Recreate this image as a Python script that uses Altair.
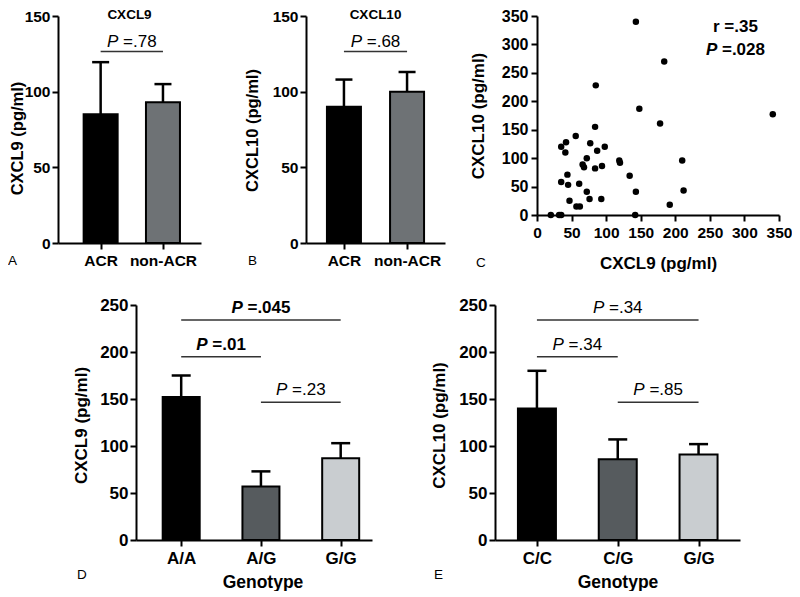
import altair as alt
import pandas as pd

FONT = "Liberation Sans"

# ---------------- data ----------------
ab_groups = ["ACR", "non-ACR"]
ab_colors = ["#000000", "#6e7275"]
cxcl9_mean = [85, 93]
cxcl9_err = [34.5, 12]
cxcl10_mean = [90, 100]
cxcl10_err = [18, 13]

scatter_cxcl9 = [143, 184, 85, 148, 341, 178, 84, 56, 42, 35, 41, 77, 98, 87, 72, 66, 68, 84, 94, 119,
                 120, 134, 44, 35, 45, 61, 72, 143, 47, 76, 93, 57, 62, 20, 32, 35, 142, 210, 212, 192]
scatter_cxcl10 = [340, 270, 228, 187, 177, 161, 155, 139, 128, 120, 110, 126, 120, 113, 100, 89, 84, 82, 86, 96,
                  92, 69, 71, 58, 53, 55, 41, 41, 25, 28, 28, 15, 15, 0, 0, 0, 0, 96, 43, 18]

d_groups = ["A/A", "A/G", "G/G"]
d_mean = [152, 57, 87]
d_err = [23, 16, 16]
e_groups = ["C/C", "C/G", "G/G"]
e_mean = [140, 86, 91]
e_err = [40, 21, 11]
geno_colors = ["#000000", "#565b5e", "#c9cdd0"]

# brackets: (from index, to index, height, p text, bold)
a_brackets = [(0, 1, 126.5, ".78", False)]
b_brackets = [(0, 1, 126.5, ".68", False)]
d_brackets = [(0, 2, 234, ".045", True), (0, 1, 195, ".01", True), (1, 2, 146.5, ".23", False)]
e_brackets = [(0, 2, 234, ".34", False), (0, 1, 195, ".34", False), (1, 2, 146.5, ".85", False)]

# ---------------- helpers ----------------
CW = {"P": 0.667, " ": 0.278, "=": 0.584, ".": 0.278, "r": 0.389}
for _d in "0123456789":
    CW[_d] = 0.556


def text_w(s, fs):
    return sum(CW.get(c, 0.556) for c in s) * fs


def one():
    return pd.DataFrame({"k": [0]})


def label_text(txt, x, y, fs, weight="normal", align="left", baseline="middle"):
    return alt.Chart(one()).mark_text(
        text=txt, align=align, baseline=baseline, fontSize=fs, font=FONT,
        fontWeight=weight, color="black"
    ).encode(x=alt.value(x), y=alt.value(y))


def p_layers(xc, yv, rest, bold, fs, dy, X, Y):
    wP = CW["P"] * fs
    wS = CW[" "] * fs
    wR = text_w("=" + rest, fs)
    total = wP + wS + wR
    df = pd.DataFrame({"xi": [xc], "yv": [yv]})
    weight = "bold" if bold else "normal"
    t1 = alt.Chart(df).mark_text(
        text="P", align="left", baseline="middle", dx=-total / 2, dy=dy,
        fontSize=fs, font=FONT, fontStyle="italic", fontWeight=weight, color="black"
    ).encode(x=X("xi"), y=Y("yv"))
    t2 = alt.Chart(df).mark_text(
        text="=" + rest, align="left", baseline="middle", dx=-total / 2 + wP + wS, dy=dy,
        fontSize=fs, font=FONT, fontWeight=weight, color="black"
    ).encode(x=X("xi"), y=Y("yv"))
    return [t1, t2]


def bar_panel(groups, means, errs, colors, brackets, xdom, width, height, ymax,
              ytitle, ytx, yty, xtitle, xtx, xty, lfs, tfs, bar_w, cap_w,
              panel_title, letter, letter_x, letter_y, pdy):
    n = len(groups)
    xs = alt.Scale(domain=xdom, nice=False, zero=False)
    ys = alt.Scale(domain=[0, ymax], nice=False)
    label_expr = "[" + ",".join("'" + g + "'" for g in groups) + "][datum.value]"
    xaxis_kw = dict(values=list(range(n)), labelExpr=label_expr, labelFontSize=lfs,
                    labelFlush=False, labelOverlap=False, labelPadding=4, ticks=True, grid=False)
    if xtitle:
        xaxis_kw.update(title=xtitle, titleX=xtx, titleY=xty, titleBaseline="middle", titleFontSize=tfs + 0.5)
    else:
        xaxis_kw.update(title=None)
    xaxis = alt.Axis(**xaxis_kw)
    yaxis = alt.Axis(values=list(range(0, ymax + 1, 50)), title=ytitle, titleX=ytx, titleY=yty,
                     labelFontSize=lfs, titleFontSize=tfs, labelFlush=False, labelOverlap=False,
                     labelPadding=2, grid=False)

    def X(f):
        return alt.X(f, type="quantitative", scale=xs, axis=xaxis)

    def Y(f):
        return alt.Y(f, type="quantitative", scale=ys, axis=yaxis)

    df = pd.DataFrame({
        "xi": list(range(n)),
        "grp": groups,
        "fillc": colors,
        "yv": means,
        "yv2": [m + e for m, e in zip(means, errs)],
    })
    bars = alt.Chart(df).mark_bar(size=bar_w, stroke="black", strokeWidth=2).encode(
        x=X("xi"), y=Y("yv"),
        color=alt.Color("fillc:N", scale=None),
    )
    err = alt.Chart(df).mark_rule(color="black", strokeWidth=2.5).encode(
        x=X("xi"), y=Y("yv"), y2="yv2")
    cap = alt.Chart(df).mark_tick(orient="horizontal", size=cap_w, thickness=2.5,
                                  color="black", opacity=1).encode(x=X("xi"), y=Y("yv2"))
    layers = [bars, err, cap]
    bdf = pd.DataFrame({
        "xi": [b[0] for b in brackets],
        "xi2": [b[1] for b in brackets],
        "yv": [b[2] for b in brackets],
    })
    layers.append(alt.Chart(bdf).mark_rule(color="#333333", strokeWidth=1.5).encode(
        x=X("xi"), x2="xi2", y=Y("yv")))
    for b in brackets:
        layers += p_layers((b[0] + b[1]) / 2, b[2], b[3], b[4], 17, pdy, X, Y)
    if panel_title:
        layers.append(label_text(panel_title, width / 2, 3, 13.5, weight="bold",
                                 align="center", baseline="alphabetic"))
    layers.append(label_text(letter, letter_x, letter_y, 13.5))
    return alt.layer(*layers).properties(width=width, height=height)


# ---------------- panels ----------------
panel_a = bar_panel(ab_groups, cxcl9_mean, cxcl9_err, ab_colors, a_brackets,
                    [-0.604, 1.53], 143, 227, 150,
                    "CXCL9 (pg/ml)", -33, 122, None, 0, 0, 15.5, 16.5, 34, 17,
                    "CXCL9", "A", -50, 245, -10)
panel_b = bar_panel(ab_groups, cxcl10_mean, cxcl10_err, ab_colors, b_brackets,
                    [-0.522, 1.522], 139, 227, 150,
                    "CXCL10 (pg/ml)", -46, 114, None, 0, 0, 15.5, 16.5, 34, 17,
                    "CXCL10", "B", -58, 245, -10)
panel_d = bar_panel(d_groups, d_mean, d_err, geno_colors, d_brackets,
                    [-0.504, 2.33], 236, 235, 250,
                    "CXCL9 (pg/ml)", -46, 120, "Genotype", 126.5, 42, 17, 17, 37, 19,
                    None, "D", -59, 270, -12)
panel_e = bar_panel(e_groups, e_mean, e_err, geno_colors, e_brackets,
                    [-0.457, 2.451], 245, 235, 250,
                    "CXCL10 (pg/ml)", -47, 120, "Genotype", 122.5, 42, 17, 17, 38, 19,
                    None, "E", -61, 270, -12)

# scatter C
cw, ch = 242, 199
cxs = alt.Scale(domain=[0, 350], nice=False)
cys = alt.Scale(domain=[0, 350], nice=False)
c_xaxis = alt.Axis(values=list(range(0, 351, 50)), title="CXCL9 (pg/ml)", titleX=cw / 2, titleY=48,
                   titleBaseline="middle", labelFontSize=15.5, titleFontSize=17, labelFlush=False,
                   labelOverlap=False, labelPadding=4, grid=False)
c_yaxis = alt.Axis(values=list(range(0, 351, 50)), title="CXCL10 (pg/ml)", titleX=-50, titleY=ch / 2,
                   labelFontSize=16, titleFontSize=17, labelFlush=False, labelOverlap=False,
                   labelPadding=3, grid=False)


def CX(f):
    return alt.X(f, type="quantitative", scale=cxs, axis=c_xaxis)


def CY(f):
    return alt.Y(f, type="quantitative", scale=cys, axis=c_yaxis)


sdf = pd.DataFrame({"xi": scatter_cxcl9, "yv": scatter_cxcl10})
pts = alt.Chart(sdf).mark_circle(size=42, color="black", opacity=1).encode(x=CX("xi"), y=CY("yv"))
rdf = pd.DataFrame({"xi": [287], "yv": [331]})
r_text = alt.Chart(rdf).mark_text(text="r =.35", align="center", baseline="middle", fontSize=17,
                                  font=FONT, fontWeight="bold", color="black").encode(x=CX("xi"), y=CY("yv"))
c_layers = [pts, r_text] + p_layers(287, 291, ".028", True, 17, 0, CX, CY)
c_layers.append(label_text("C", -61, 247, 13.5))
panel_c = alt.layer(*c_layers).properties(width=cw, height=ch)


def spacer(w, h):
    return alt.Chart(one()).mark_rect(opacity=0).encode(
        x=alt.value(0), x2=alt.value(w), y=alt.value(0), y2=alt.value(h)
    ).properties(width=w, height=h)


row1 = alt.hconcat(spacer(50, 227), panel_a, spacer(105, 227), panel_b, spacer(92, 227), panel_c,
                   spacing=0, bounds="flush")
row2 = alt.hconcat(spacer(128, 235), panel_d, spacer(123, 235), panel_e,
                   spacing=0, bounds="flush")

chart = alt.vconcat(row1, row2, spacing=25, padding=0).configure_view(strokeWidth=0).configure_axis(
    domainColor="black", domainWidth=2, tickColor="black", tickWidth=2, tickSize=6,
    labelColor="black", titleColor="black", labelFont=FONT, titleFont=FONT,
    labelFontWeight="bold", titleFontWeight="bold",
)

chart.save("out.html", embed_options={"renderer": "svg", "actions": False})
